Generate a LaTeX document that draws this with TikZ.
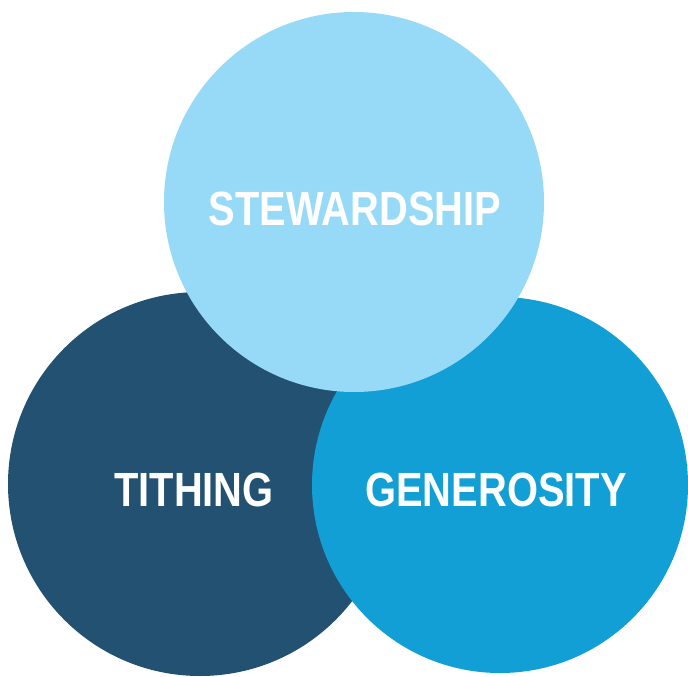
\documentclass[tikz,border=0pt]{standalone}
\usepackage{fontspec}
\setmainfont{Liberation Sans}[FakeStretch=0.83]
\definecolor{lightblue}{RGB}{151,218,247}
\definecolor{darkblue}{RGB}{34,81,114}
\definecolor{midblue}{RGB}{17,159,214}

\begin{document}
\begin{tikzpicture}[x=1pt,y=-1pt]
        \tikzstyle{every node}+=[inner sep=0pt]
        \tikzstyle{label}=[text=white,font=\fontsize{48}{48}\selectfont\bfseries]
        \useasboundingbox (0,0) rectangle (688,677);
        \fill [darkblue] (200,484) circle (192);
        \fill [midblue] (500,485) circle (188);
        \fill [lightblue] (354,202) circle (190);
        \draw (355,209) node [label] (stewardship) {STEWARDSHIP};
        \draw (194,490) node [label] (tithing) {TITHING};
        \draw (496,490) node [label] (generosity) {GENEROSITY};
      \end{tikzpicture}
\end{document}
